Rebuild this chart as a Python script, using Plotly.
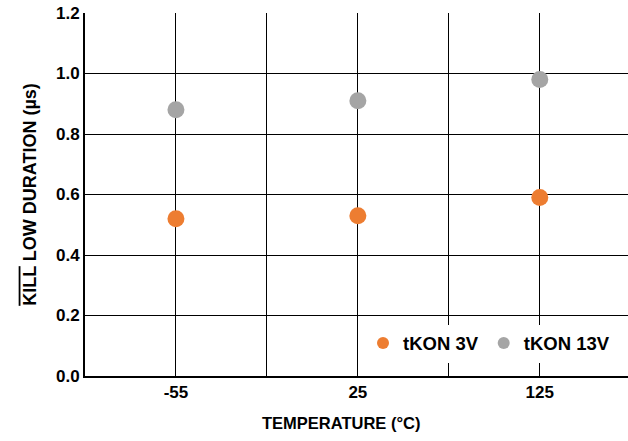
import plotly.graph_objects as go

temperatures = ["-55", "25", "125"]
tkon_3v = [0.52, 0.53, 0.59]
tkon_13v = [0.88, 0.91, 0.98]
series_names = ["tKON 3V", "tKON 13V"]
series_colors = ["#ED7D31", "#A5A5A5"]
y_ticks = [0.0, 0.2, 0.4, 0.6, 0.8, 1.0, 1.2]

# categories sit on every other gridline (1, 3, 5)
x_pos = [2 * i + 1 for i in range(len(temperatures))]
grid_vals = list(range(0, 2 * len(temperatures) + 1))
grid_text = ["" for _ in grid_vals]
for i, t in enumerate(temperatures):
    grid_text[2 * i + 1] = f"<b>{t}</b>"

font_family = "Liberation Sans, Arial, sans-serif"
tick_fs = 17
xtitle_fs = 16.5
ytitle_fs = 18
legend_fs = 18.5

fig = go.Figure()
for name, vals, col in zip(series_names, [tkon_3v, tkon_13v], series_colors):
    fig.add_trace(go.Scatter(
        x=x_pos, y=vals, mode="markers", name=f"<b>{name}</b>",
        marker=dict(color=col, size=17, line=dict(width=0)),
    ))

fig.update_layout(
    width=628, height=441,
    margin=dict(l=85, r=0, t=13, b=65),
    paper_bgcolor="white", plot_bgcolor="white",
    font=dict(family=font_family, size=tick_fs, color="black"),
    showlegend=True,
    legend=dict(
        orientation="h", x=0.512, y=0.0895, xanchor="left", yanchor="middle",
        bgcolor="white", font=dict(size=legend_fs, family=font_family, color="black"),
        itemsizing="constant", tracegroupgap=0, itemwidth=30,
    ),
    xaxis=dict(
        range=[0, 5.97], tickvals=grid_vals, ticktext=grid_text,
        showgrid=True, gridcolor="black", gridwidth=1,
        showline=True, linecolor="black", linewidth=2,
        ticks="", zeroline=False, automargin=False,
        tickfont=dict(size=tick_fs, family=font_family, color="black"),
    ),
    yaxis=dict(
        range=[0, 1.2], tickvals=y_ticks,
        ticktext=[f"<b>{v:.1f}</b>" for v in y_ticks],
        showgrid=True, gridcolor="black", gridwidth=1,
        showline=True, linecolor="black", linewidth=2,
        ticks="", zeroline=False, automargin=False,
        tickfont=dict(size=tick_fs, family=font_family, color="black"),
        title=dict(text="<b><span style=\"text-decoration:overline\">KILL</span> LOW DURATION (µs)</b>",
                   standoff=15, font=dict(size=ytitle_fs, family=font_family)),
    ),
    annotations=[dict(
        text="<b>TEMPERATURE (°C)</b>", xref="paper", yref="paper",
        x=0.472, y=-0.1295, xanchor="center", yanchor="middle", showarrow=False,
        font=dict(size=xtitle_fs, family=font_family, color="black"),
    )],
)

fig.write_html("out.html", config={"displayModeBar": False},
               post_script="document.body.style.margin='0';")
